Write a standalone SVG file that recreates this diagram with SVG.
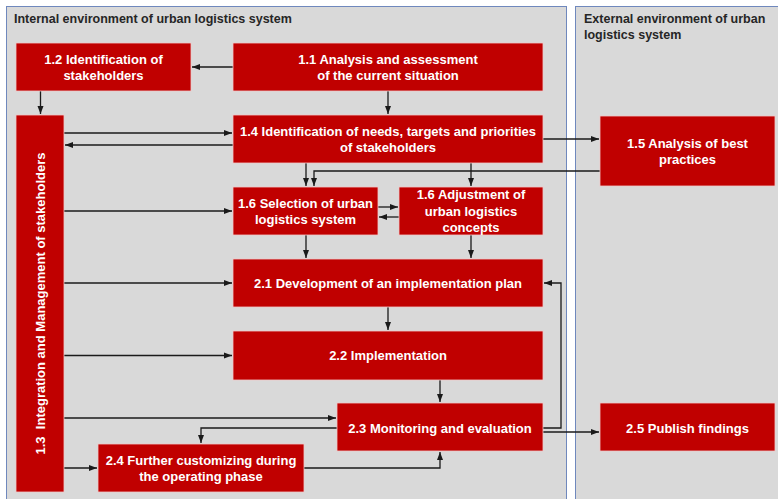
<svg xmlns="http://www.w3.org/2000/svg" width="778" height="499" viewBox="0 0 778 499">
<defs>
<marker id="ah" viewBox="0 0 8 8" refX="8" refY="4" markerWidth="8" markerHeight="8" markerUnits="userSpaceOnUse" orient="auto">
<path d="M0,1 L8,4 L0,7 Z" fill="#1a1a1a"/>
</marker>
<style>
.panel{fill:#d9d9d9;stroke:#6f88bd;stroke-width:1}
.ptitle{font-family:"Liberation Sans",Arial,sans-serif;font-weight:bold;font-size:12.5px;fill:#262626}
.box{fill:#c00000;stroke:#f0c8c8;stroke-width:0.8}
.lbl{font-family:"Liberation Sans",Arial,sans-serif;font-weight:bold;font-size:13px;fill:#ffffff;text-anchor:middle;dominant-baseline:central}
.c{fill:none;stroke:#1a1a1a;stroke-width:1.3;marker-end:url(#ah)}
</style>
</defs>
<rect x="0" y="0" width="778" height="499" fill="#ffffff"/>
<g id="panel-internal">
<rect class="panel" x="6.5" y="6.5" width="560" height="500"/>
<text class="ptitle" x="14" y="23">Internal environment of urban logistics system</text>
</g>
<g id="panel-external">
<rect class="panel" x="575.5" y="6.5" width="210" height="500"/>
<text class="ptitle" x="584" y="23">External environment of urban</text>
<text class="ptitle" x="584" y="39">logistics system</text>
</g>
<g id="connectors">
<path class="c" d="M233,67 H192"/>
<path class="c" d="M40.5,91 V114"/>
<path class="c" d="M388,91 V114"/>
<path class="c" d="M64,133 H232"/>
<path class="c" d="M233,145 H65"/>
<path class="c" d="M543,139 H599"/>
<path class="c" d="M306,163 V186"/>
<path class="c" d="M600,171 H314 V186"/>
<path class="c" d="M471,163 V186"/>
<path class="c" d="M64,211 H232"/>
<path class="c" d="M378,207 H398"/>
<path class="c" d="M399,217 H379"/>
<path class="c" d="M306,235 V258"/>
<path class="c" d="M471,235 V258"/>
<path class="c" d="M64,283 H232"/>
<path class="c" d="M388,307 V330"/>
<path class="c" d="M64,355.5 H232"/>
<path class="c" d="M440,380 V402"/>
<path class="c" d="M64,418 H336"/>
<path class="c" d="M337,428 H201 V443"/>
<path class="c" d="M64,468 H97"/>
<path class="c" d="M304,468 H440 V452"/>
<path class="c" d="M543,428 H561 V283 H544"/>
<path class="c" d="M543,432 H599"/>
</g>
<g id="n1-2">
<rect class="box" x="16" y="43" width="175" height="48"/>
<text class="lbl" x="103.5" y="59">1.2 Identification of</text>
<text class="lbl" x="103.5" y="75">stakeholders</text>
</g>
<g id="n1-1">
<rect class="box" x="233" y="43" width="310" height="48"/>
<text class="lbl" x="388" y="59">1.1 Analysis and assessment</text>
<text class="lbl" x="388" y="75">of the current situation</text>
</g>
<g id="n1-3">
<rect class="box" x="16" y="115" width="48" height="377"/>
<text class="lbl" x="0" y="0" transform="translate(40.5,303.5) rotate(-90)" style="white-space:pre">1.3  Integration and Management of stakeholders</text>
</g>
<g id="n1-4">
<rect class="box" x="233" y="115" width="310" height="48"/>
<text class="lbl" x="388" y="131">1.4 Identification of needs, targets and priorities</text>
<text class="lbl" x="388" y="147">of stakeholders</text>
</g>
<g id="n1-5">
<rect class="box" x="600" y="116" width="175" height="70"/>
<text class="lbl" x="687.5" y="143">1.5 Analysis of best</text>
<text class="lbl" x="687.5" y="159">practices</text>
</g>
<g id="n1-6-selection">
<rect class="box" x="233" y="187" width="145" height="48"/>
<text class="lbl" x="305.5" y="203">1.6 Selection of urban</text>
<text class="lbl" x="305.5" y="219">logistics system</text>
</g>
<g id="n1-6-adjustment">
<rect class="box" x="399" y="187" width="144" height="48"/>
<text class="lbl" x="471" y="194.5">1.6 Adjustment of</text>
<text class="lbl" x="471" y="211">urban logistics</text>
<text class="lbl" x="471" y="227.5">concepts</text>
</g>
<g id="n2-1">
<rect class="box" x="233" y="259" width="310" height="48"/>
<text class="lbl" x="388" y="283">2.1 Development of an implementation plan</text>
</g>
<g id="n2-2">
<rect class="box" x="233" y="331" width="310" height="49"/>
<text class="lbl" x="388" y="355.5">2.2 Implementation</text>
</g>
<g id="n2-3">
<rect class="box" x="337" y="403" width="206" height="48"/>
<text class="lbl" x="440" y="428">2.3 Monitoring and evaluation</text>
</g>
<g id="n2-4">
<rect class="box" x="98" y="444" width="206" height="48"/>
<text class="lbl" x="201" y="460.5">2.4 Further customizing during</text>
<text class="lbl" x="201" y="476.5">the operating phase</text>
</g>
<g id="n2-5">
<rect class="box" x="600" y="403" width="175" height="48"/>
<text class="lbl" x="687.5" y="428">2.5 Publish findings</text>
</g>
</svg>
